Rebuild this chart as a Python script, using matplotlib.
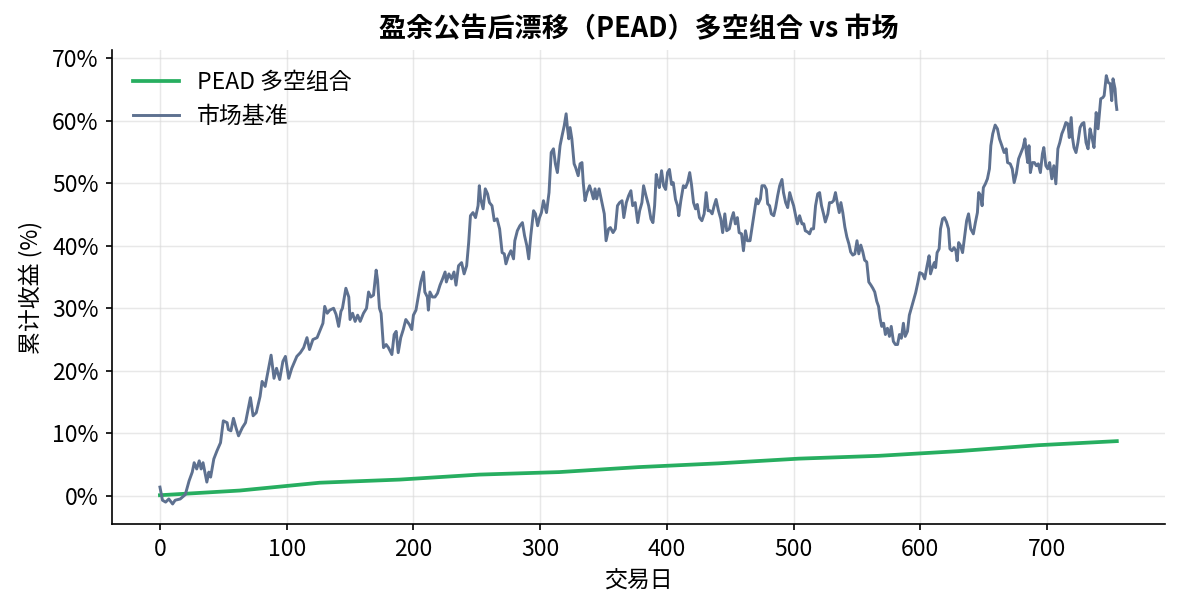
import matplotlib

matplotlib.use("Agg")
import matplotlib.pyplot as plt
from matplotlib.ticker import PercentFormatter

# PEAD long-short portfolio: cumulative return (%) at the quarterly kinks
pead_days = [0, 63, 126, 189, 252, 315, 378, 441, 504, 567, 630, 693, 755]
pead_ret = [0.1, 0.85, 2.1, 2.6, 3.4, 3.8, 4.6, 5.2, 5.95, 6.4, 7.15, 8.1, 8.75]

# market benchmark: cumulative return (%)
mkt_days = [
    0, 2, 4.5, 7, 10, 12, 16, 20, 23, 25.5, 27, 29, 31, 32.5, 34, 37, 38.6, 40,
    42.5, 45, 47.8, 50, 53, 54, 56, 58, 60, 62, 65, 67.5, 70, 71.4, 73.5, 76,
    79, 80.6, 83, 85, 87.7, 90, 92, 94.5, 97, 99, 101.6, 104, 108,
    110.8, 113.4, 116, 118, 120.7, 124, 127, 128.6, 130, 132, 134, 137, 139,
    141, 142.8, 144, 146.7, 149, 150, 152, 154, 156, 158, 160.6, 163, 164.6,
    166.4, 168.5, 170.6, 171.7, 173.2, 174.5, 176.4, 178.5, 180.3, 183, 184.8,
    186.4, 188, 190, 192, 194, 196.8, 198.7, 200, 202, 204, 205.8, 208, 209,
    211, 211.8, 213, 215, 217, 219, 221, 223, 225, 226, 228, 230, 232, 233.6,
    235.6, 238, 240, 242, 243.6, 245, 247, 249, 251, 252, 253, 255, 256.7,
    258.5, 260, 262, 263.8, 266, 268, 270, 271.7, 273, 275, 276.9, 279, 280,
    282, 284, 286, 287.7, 289.5, 291, 292.6, 294.8, 296.3, 298, 299.5, 301,
    302.6, 304, 305, 307, 308.7, 310.5, 312, 313.6, 315.7, 317.3, 319, 320.5,
    321.5, 322.6, 323.6, 325, 326.8, 328, 330, 331.5, 333, 334, 335.4, 337,
    339, 340.7, 342, 343.3, 344.6, 346.5,
    348.8, 350.6, 352, 354, 355.4, 357.5, 359.3, 361, 362.7, 364.6, 366, 368,
    369.8, 371.6, 373, 375, 377, 378.5, 380.3, 381.6, 383.5, 385.6, 387.4, 389,
    390.3, 391.6, 393, 394, 395.8, 397.4, 399, 400.5, 402, 403.7, 405, 406.8,
    408.4, 409.4, 411, 413, 414.7, 416.3, 418, 419.4, 421, 422.6, 424, 425.7,
    427.6, 429.4, 431, 432.5, 434, 435.7, 437.3, 438.8, 440.7, 442.5, 444,
    445.7, 447.2, 449.3, 451, 452.5, 454, 455.6, 457, 458.9, 460.4, 462, 463.5,
    465.6,
    467, 469, 470.6, 472, 473.8, 475, 477, 478.5, 479.5, 481, 482.4, 484.3,
    485.8, 487.4, 489, 490.8, 492, 493.7, 495.3, 496.9, 498.7, 500, 501.6, 503,
    504.7, 506.6, 508, 509.2, 511, 512.6, 514, 515.7, 517.3, 519, 520.5, 522,
    523.6, 525, 527, 528.3, 530, 531.5, 533, 534.6, 536, 537.3, 538.8, 540.4,
    542, 543.6, 545, 546.7, 548.3, 550, 551.4, 553, 554.6, 556, 557.7, 559.3,
    561, 562.5, 564, 565.6, 567, 568.2, 569.5, 571, 572.4, 574, 575.6, 577,
    578.7, 580.3, 582, 583.5, 585, 586.6, 588, 589.8, 591.3,
    596.3, 598, 599.5, 601.6, 603.4, 605.3, 606.9, 608, 609.5, 611, 612, 613.2,
    614.8, 615.9, 617.5, 619, 620.6, 622.2, 623.3, 624.9, 626.5, 628, 629,
    630.2, 631.7, 633.3, 635, 636.5, 638, 639.7, 641.8, 643.4, 645, 646, 647.6,
    648.7, 649.7, 651.3, 652.9, 654.5, 655.6, 657.1, 659, 660.8, 662.4, 664.3,
    666.1, 667.7, 668.8, 670.9, 672.5, 674, 675.7, 677.5, 679.4, 681, 682.5,
    683.6, 684.7, 685.7, 686.8, 688.4, 690, 691.5, 693, 694.7, 696.3, 697.4,
    699, 700.5, 702, 703.7, 705.3, 706.9, 708.5, 710, 711.6, 713.2, 714.8,
    716.4, 717.5, 719, 720, 721.2, 722.8, 724.3, 726, 727.5, 729, 730.7, 732.3,
    733.9, 735.4, 737, 738.7, 740.2, 741.3, 742.3, 744, 745, 746.7, 748.2,
    749.8, 751, 752, 753.6, 754.4, 755,
]
mkt_ret = [
    1.4, -0.7, -1.0, -0.5, -1.3, -0.7, -0.5, 0.2, 2.4, 3.8, 5.3, 4.3, 5.6, 4.3,
    5.3, 2.2, 3.8, 3.0, 5.9, 7.2, 8.5, 12.0, 11.7, 10.6, 10.4, 12.4, 10.9, 9.6,
    10.9, 11.7, 14.3, 15.7, 12.8, 13.3, 15.9, 18.3, 17.5, 19.6, 22.5, 18.8,
    20.4, 18.6, 21.5, 22.3, 18.8, 20.4, 22.3,
    22.9, 23.7, 25.3, 23.4, 25.0, 25.3, 26.8, 27.6, 30.3, 29.2, 29.7, 30.0,
    29.0, 27.1, 29.5, 30.0, 33.2, 31.8, 28.2, 29.2, 27.9, 28.9, 27.9, 29.2,
    30.0, 32.6, 31.8, 32.1, 36.1, 34.5, 30.0, 29.2, 23.7, 24.2, 23.7, 22.6,
    25.8, 26.3, 22.9, 25.3, 26.6, 28.2, 27.4, 26.6, 28.9, 29.7, 32.1, 34.2,
    35.8, 32.6, 31.8, 29.7, 32.6, 31.8, 31.8, 32.4, 33.7, 34.7, 35.8, 34.2,
    35.5, 34.7, 35.8, 33.7,
    36.8, 37.3, 35.5, 36.8, 40.5, 44.8, 45.3, 44.5, 46.4, 49.6, 47.5, 45.9,
    49.1, 48.3, 46.9, 46.4, 44.0, 44.3, 42.7, 38.9, 38.7, 37.1, 38.4, 39.2,
    37.9, 40.8, 42.4, 43.2, 43.7, 41.6, 40.0, 37.9, 41.6, 45.6, 45.1, 43.2,
    44.5, 45.3, 47.2, 46.1, 45.3, 48.5, 54.9, 55.5, 53.1, 51.7, 56.0, 57.6,
    59.2, 61.1, 58.9, 57.1, 58.9, 57.1, 53.1, 52.5, 51.2, 53.1, 53.3, 50.1,
    47.2, 48.5, 49.6, 48.5, 47.5, 49.1, 47.5, 49.1,
    46.9, 45.1, 40.8, 42.7, 42.9, 42.1, 42.7, 46.4, 46.9, 47.2, 44.5, 46.9,
    48.0, 48.8, 46.4, 46.9, 43.7, 45.6, 46.9, 49.6, 48.0, 46.4, 44.3, 43.7,
    46.4, 51.4, 50.1, 49.3, 52.0, 49.6, 49.0, 51.7, 52.2, 49.8, 50.1, 47.4,
    46.4, 44.8, 47.2, 49.6, 49.3, 50.1, 51.7, 49.8, 46.9, 45.9, 46.6, 44.5,
    44.0, 45.1, 48.5, 45.6, 45.6, 45.1, 46.4, 47.4, 45.6, 44.3, 42.1, 45.1,
    42.4, 42.7, 44.3, 45.3, 43.5, 44.5, 42.1, 41.9, 39.2, 42.4, 40.8, 40.8,
    42.7, 45.3, 47.5, 46.7, 47.5, 49.6, 49.6, 49.0, 46.7, 46.4, 45.1, 44.8,
    46.1, 48.0, 49.6, 50.6, 48.5, 46.9, 46.1, 48.5, 47.2, 46.4, 44.8, 43.5,
    44.8, 43.5, 43.5, 42.4, 42.2, 41.9, 42.7, 42.7, 46.4, 48.3, 48.5, 46.4,
    45.1, 43.8, 45.1, 46.9, 46.9, 47.2, 48.5, 46.7, 45.3, 46.9, 45.3, 43.0,
    41.4, 40.3, 39.0, 38.5, 38.7, 40.8, 38.7, 40.1, 39.0, 37.7, 37.4, 34.2,
    33.7, 33.2, 32.6, 31.1, 30.3, 28.4, 27.1, 27.6, 25.8, 26.8, 25.5, 27.1,
    24.7, 24.2, 24.2, 25.8, 25.2, 27.6, 25.5, 26.3, 28.9,
    32.5, 34.1, 35.7, 35.5, 34.7, 36.8, 38.4, 35.5, 36.5, 37.3, 36.5, 38.9,
    39.5, 42.7, 44.3, 44.5, 43.8, 42.7, 39.5, 39.2, 39.7, 39.2, 37.6, 40.5,
    40.0, 38.9, 41.6, 44.0, 45.1, 42.7, 41.9, 43.7, 45.3, 48.5, 48.0, 46.4,
    49.3, 49.9, 50.7, 52.3, 56.0, 57.9, 59.3, 58.7, 57.1, 56.0, 54.9, 55.5,
    53.3, 53.1, 52.3, 50.1, 51.5, 53.9, 54.9, 55.7, 57.1, 54.9, 53.3, 56.0,
    51.7, 53.3, 53.3, 52.8, 53.1, 51.7, 54.7, 55.7, 52.8, 52.3, 53.3, 50.7,
    52.8, 49.9, 55.5, 56.5, 57.9, 58.7, 59.7, 59.5, 57.3, 60.5, 57.3, 55.7,
    54.9, 56.5, 58.9, 59.5, 59.7, 56.5, 55.5, 58.7, 57.3, 55.7, 61.3, 58.7,
    61.3, 63.5, 63.7, 64.0, 67.2, 66.1, 65.9, 63.2, 66.7, 65.1, 62.8, 61.8,
]

plt.rcParams["font.family"] = ["Noto Sans CJK JP", "DejaVu Sans"]
plt.rcParams["axes.unicode_minus"] = False

fig, ax = plt.subplots(figsize=(1180 / 150, 610 / 150), dpi=150)
fig.subplots_adjust(left=0.095, right=0.987, bottom=0.141, top=0.918)

ax.plot(pead_days, pead_ret, color="#27ae60", linewidth=1.8, label="PEAD 多空组合")
ax.plot(mkt_days, mkt_ret, color="#5e7190", linewidth=1.4, label="市场基准")

ax.set_title("盈余公告后漂移（PEAD）多空组合 vs 市场", fontsize=13, fontweight="bold")
ax.set_xlabel("交易日", fontsize=11)
ax.set_ylabel("累计收益 (%)", fontsize=11)
ax.yaxis.set_major_formatter(PercentFormatter(decimals=0))
ax.set_xticks(range(0, 701, 100))
ax.set_yticks(range(0, 71, 10))
ax.set_ylim(-4.5, 71.3)
ax.tick_params(labelsize=11, length=3, width=0.8)
ax.grid(True, color="#d9d9d9", alpha=0.6, linewidth=0.7)
for side in ("top", "right"):
    ax.spines[side].set_visible(False)
ax.legend(loc="upper left", frameon=False, fontsize=11)

fig.savefig("out.png", dpi=150)
plt.close(fig)
